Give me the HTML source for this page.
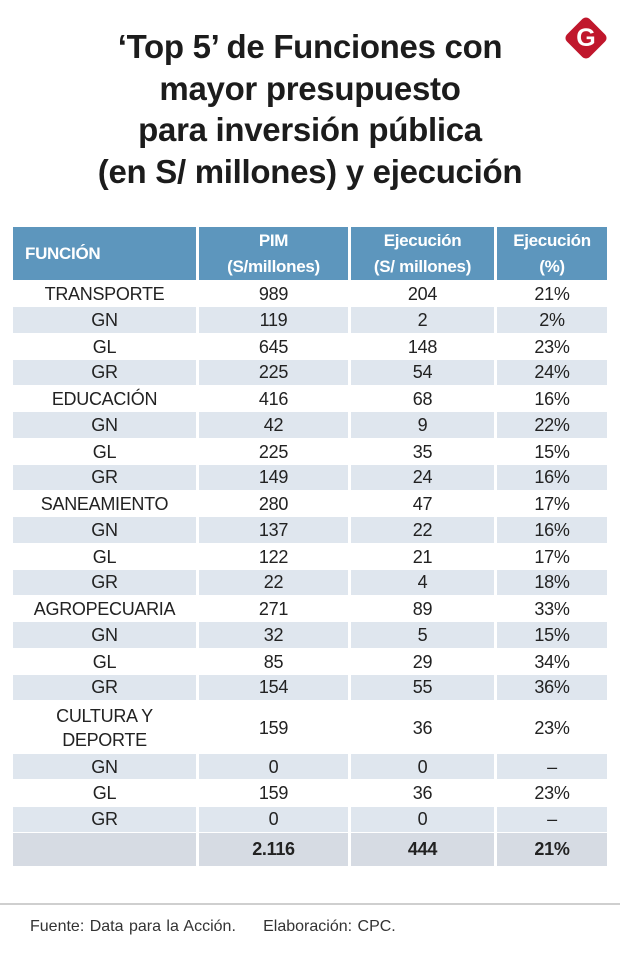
<!DOCTYPE html>
<html><head><meta charset="utf-8">
<style>
body{margin:0;width:620px;height:972px;background:#fff;font-family:"Liberation Sans",sans-serif;position:relative;overflow:hidden;color:#222}
#title{position:absolute;left:0;top:26px;width:620px;text-align:center;font-weight:bold;font-size:33px;line-height:41.5px;letter-spacing:-0.3px;color:#1c1c1c}
#logo{position:absolute;left:570px;top:22px;width:32px;height:32px;background:#c0172c;transform:rotate(45deg);border-radius:5px}
#logo-g{position:absolute;left:570px;top:22px;width:32px;height:32px;line-height:32px;text-align:center;color:#fff;font-weight:bold;font-size:25px}
.cell{position:absolute;display:flex;align-items:center;justify-content:center;text-align:center;font-size:18px;line-height:24px;letter-spacing:-0.3px}
.hd{background:#5d96bd;color:#fff;font-weight:bold;font-size:17px;line-height:26px}
#footline{position:absolute;left:0;top:903px;width:620px;height:2px;background:#cfcfcf}
#foot{position:absolute;left:30px;top:918px;font-size:16px;color:#333;word-spacing:1px}
</style></head><body>
<div id="title">‘Top 5’ de Funciones con<br>mayor presupuesto<br>para inversión pública<br>(en S/ millones) y ejecución</div>
<div id="logo"></div>
<div id="logo-g">G</div>
<div id="tbl"></div>
<div id="footline"></div>
<div id="foot">Fuente: Data para la Acción. &nbsp;&nbsp;&nbsp;&nbsp;Elaboración: CPC.</div>
<script>
const labels=["TRANSPORTE","GN","GL","GR","EDUCACIÓN","GN","GL","GR","SANEAMIENTO","GN","GL","GR","AGROPECUARIA","GN","GL","GR","CULTURA Y<br>DEPORTE","GN","GL","GR",""];
const pim=["989","119","645","225","416","42","225","149","280","137","122","22","271","32","85","154","159","0","159","0","2.116"];
const ejec=["204","2","148","54","68","9","35","24","47","22","21","4","89","5","29","55","36","0","36","0","444"];
const pct=["21%","2%","23%","24%","16%","22%","15%","16%","17%","16%","17%","18%","33%","15%","34%","36%","23%","–","23%","–","21%"];
const heads=["FUNCIÓN","PIM<br>(S/millones)","Ejecución<br>(S/ millones)","Ejecución<br>(%)"];
const colX=[13,199,351,497], colW=[183,149,143,110];
const tbl=document.getElementById('tbl');
function cell(x,y,w,h,html,cls,bg,bold){
  const d=document.createElement('div');
  d.className='cell '+cls;
  d.style.left=x+'px';d.style.top=y+'px';d.style.width=w+'px';d.style.height=h+'px';
  if(bg)d.style.background=bg;
  if(bold)d.style.fontWeight='bold';
  d.innerHTML=html;
  tbl.appendChild(d);
  return d;
}
heads.forEach((h,i)=>{
  const d=cell(colX[i],227,colW[i],53,h,'hd');
  if(i===0){d.style.justifyContent='flex-start';d.style.paddingLeft='12px';d.style.width=(colW[i]-12)+'px';}
  
  
});
let y=281;
labels.forEach((lab,r)=>{
  const isTotal=r===labels.length-1;
  const h=r===16?53:(isTotal?34:26.25);
  let bg=null;
  if(isTotal)bg='#d6dbe3';else if(r%2===1)bg='#dfe6ee';
  const vals=[lab,pim[r],ejec[r],pct[r]];
  vals.forEach((v,i)=>{
    const d=cell(colX[i],y,colW[i],h-(bg?1:0),v,'',bg,isTotal);
    
    
  });
  y+=h;
});
</script>
</body></html>
